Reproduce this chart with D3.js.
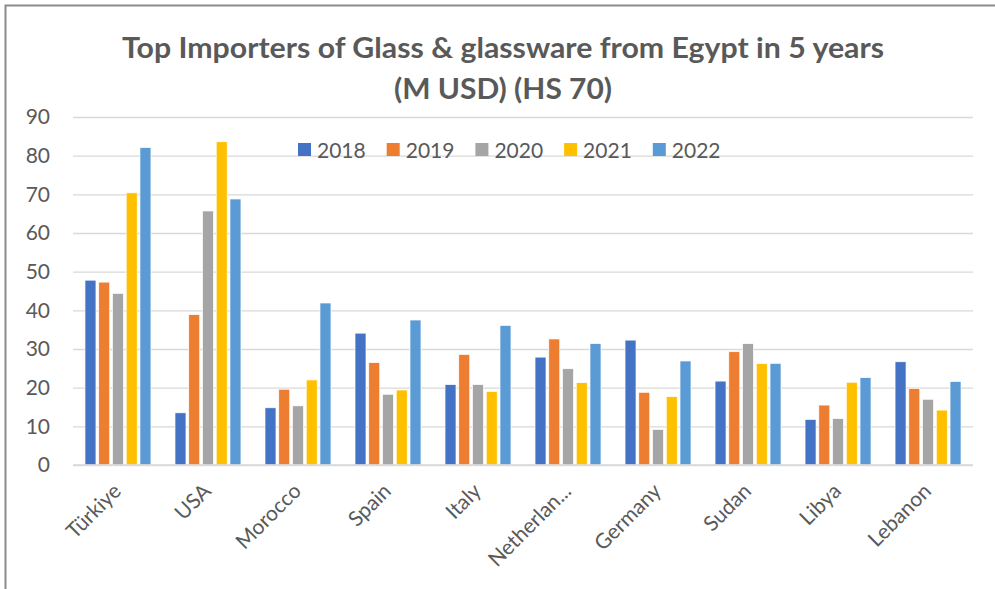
<!DOCTYPE html>
<html>
<head>
<meta charset="utf-8">
<script src="https://cdn.jsdelivr.net/npm/d3@7"></script>
<style>
  html, body { margin: 0; padding: 0; background: #fff; }
  svg { display: block; }
</style>
</head>
<body>
<div id="container"></div>
<script>
const width = 995, height = 589;
const margin = ({top: 117, right: 22, bottom: 124, left: 73});

const countries = ["Türkiye", "USA", "Morocco", "Spain", "Italy", "Netherlan...", "Germany", "Sudan", "Libya", "Lebanon"];
const years = ["2018", "2019", "2020", "2021", "2022"];
const colors = ["#4472C4", "#ED7D31", "#A5A5A5", "#FFC000", "#5B9BD5"];
const yTicks = [0, 10, 20, 30, 40, 50, 60, 70, 80, 90];

// values per year, one entry per country
const v2018 = [47.8, 13.5, 14.8, 34.1, 20.8, 27.9, 32.3, 21.7, 11.8, 26.7];
const v2019 = [47.3, 38.9, 19.6, 26.5, 28.6, 32.6, 18.8, 29.3, 15.5, 19.8];
const v2020 = [44.4, 65.7, 15.3, 18.3, 20.8, 24.9, 9.2, 31.4, 12.0, 17.0];
const v2021 = [70.4, 83.6, 22.0, 19.4, 19.0, 21.3, 17.7, 26.2, 21.4, 14.2];
const v2022 = [82.1, 68.8, 41.9, 37.5, 36.1, 31.4, 26.9, 26.3, 22.6, 21.6];
const series = [v2018, v2019, v2020, v2021, v2022];

const font = "Lato, 'Open Sans', sans-serif";
const textColor = "#595959";

let svg = d3.select("#container").append("svg")
    .attr("width", width)
    .attr("height", height)
    .attr("font-family", font);

svg.append("rect").attr("width", width).attr("height", height).attr("fill", "#fff");

// outer frame (cropped chart area border)
svg.append("path")
    .attr("d", `M5.5,${height} V5.5 H${width}`)
    .attr("fill", "none")
    .attr("stroke", "#8c8c8c")
    .attr("stroke-width", 2);

// Title
svg.append("text")
    .attr("x", 503).attr("y", 58)
    .attr("text-anchor", "middle")
    .attr("font-size", 28).attr("font-weight", "bold")
    .attr("fill", textColor)
    .attr("textLength", 762).attr("lengthAdjust", "spacingAndGlyphs")
    .text("Top Importers of Glass & glassware from Egypt in 5 years");
svg.append("text")
    .attr("x", 503).attr("y", 99)
    .attr("text-anchor", "middle")
    .attr("font-size", 28).attr("font-weight", "bold")
    .attr("fill", textColor)
    .attr("textLength", 218).attr("lengthAdjust", "spacingAndGlyphs")
    .text("(M USD) (HS 70)");

// Scales
const x0 = d3.scaleBand()
    .domain(countries)
    .range([margin.left, width - margin.right])
    .paddingInner(0.267)
    .paddingOuter(0.133);
const x1 = d3.scaleBand()
    .domain(years)
    .range([0, x0.bandwidth()])
    .paddingInner(0.2)
    .paddingOuter(0);
const y = d3.scaleLinear()
    .domain([0, 90])
    .range([height - margin.bottom, margin.top]);

// gridlines + y labels
const gy = svg.append("g")
    .attr("transform", `translate(${margin.left},0)`)
    .call(d3.axisLeft(y).tickValues(yTicks).tickSize(-(width - margin.left - margin.right)).tickPadding(23))
    .call(g => g.select(".domain").remove());
gy.selectAll(".tick line").attr("stroke", "#d9d9d9").attr("stroke-width", 1.3);
gy.selectAll(".tick text")
    .attr("fill", textColor)
    .attr("font-size", 21)
    .attr("font-family", font);

// bars
const groups = svg.append("g")
    .selectAll("g")
    .data(countries)
    .join("g")
    .attr("transform", d => `translate(${x0(d)},0)`);

groups.selectAll("rect")
    .data((d, i) => years.map((yr, j) => ({year: yr, value: series[j][i], color: colors[j]})))
    .join("rect")
    .attr("x", d => x1(d.year))
    .attr("width", x1.bandwidth())
    .attr("y", d => y(d.value))
    .attr("height", d => y(0) - y(d.value))
    .attr("fill", d => d.color)
    .attr("stroke", "#fff")
    .attr("stroke-width", 0.7);

// baseline
svg.append("line")
    .attr("x1", margin.left).attr("x2", width - margin.right)
    .attr("y1", y(0)).attr("y2", y(0))
    .attr("stroke", "#d9d9d9").attr("stroke-width", 1.3);

// x labels, rotated
svg.append("g")
    .selectAll("text")
    .data(countries)
    .join("text")
    .attr("transform", d => `translate(${x0(d) + x0.bandwidth() / 2 - 6},${y(0) + 17}) rotate(-45)`)
    .attr("text-anchor", "end")
    .attr("dy", "0.7em")
    .attr("font-size", 21)
    .attr("fill", textColor)
    .text(d => d);

// Legend
const legend = svg.append("g")
    .selectAll("g")
    .data(years)
    .join("g")
    .attr("transform", (d, i) => `translate(${298 + i * 88.7},143)`);
legend.append("rect")
    .attr("width", 13).attr("height", 13)
    .attr("fill", (d, i) => colors[i]);
legend.append("text")
    .attr("x", 19).attr("y", 14.5)
    .attr("font-size", 21)
    .attr("fill", textColor)
    .text(d => d);
</script>
</body>
</html>
